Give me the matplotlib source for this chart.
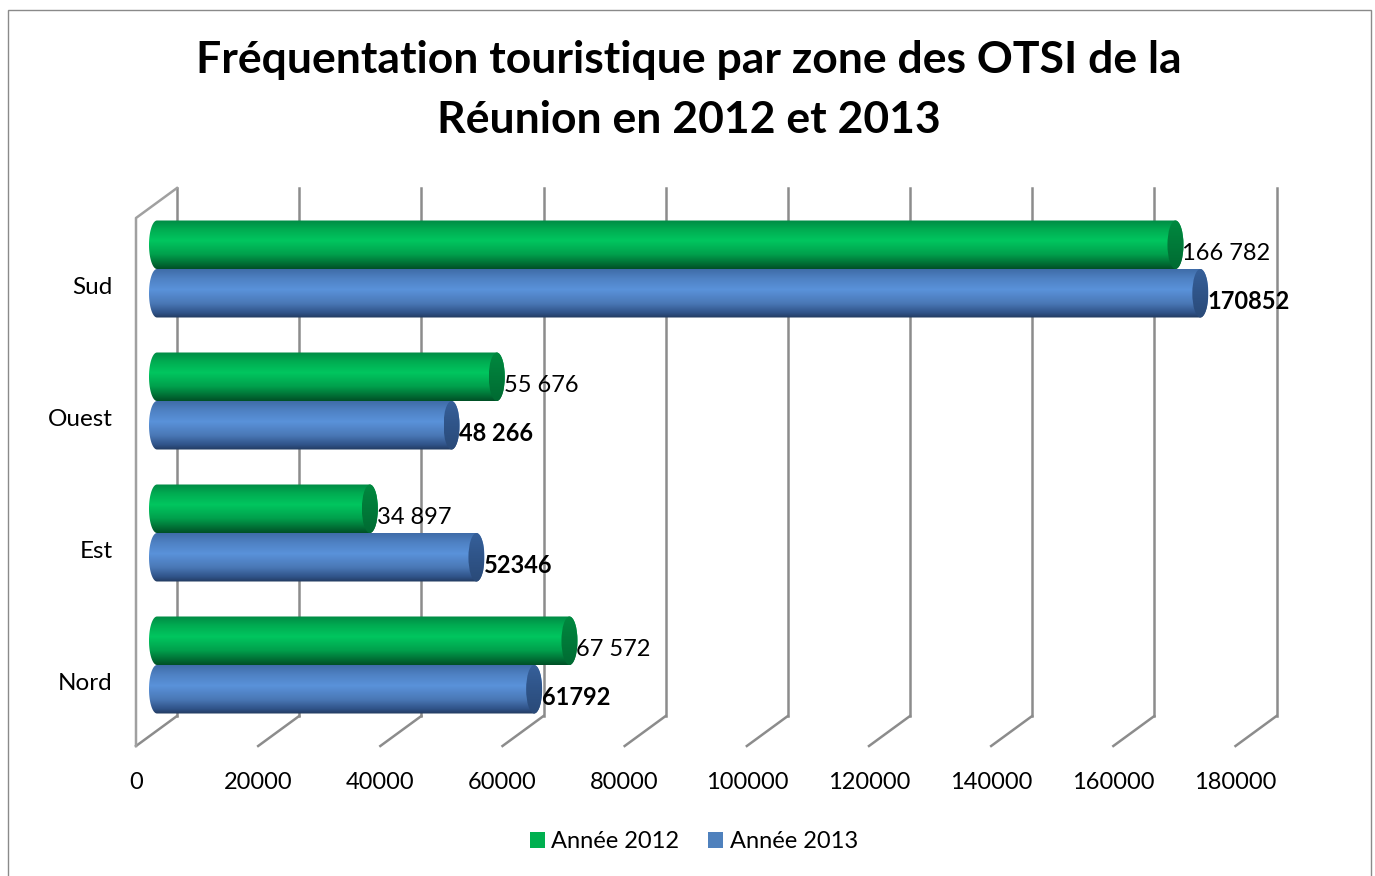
import numpy as np
import matplotlib
matplotlib.use('Agg')
import matplotlib.pyplot as plt
from matplotlib.colors import LinearSegmentedColormap
from matplotlib.patches import Patch, PathPatch, Ellipse, Rectangle
from matplotlib.path import Path
from matplotlib.transforms import ScaledTranslation

plt.rcParams['font.family'] = ['Lato', 'DejaVu Sans']

zones = ['Nord', 'Est', 'Ouest', 'Sud']
annee_2012 = [67572, 34897, 55676, 166782]
annee_2013 = [61792, 52346, 48266, 170852]
labels_2012 = ['67 572', '34 897', '55 676', '166 782']
labels_2013 = ['61792', '52346', '48 266', '170852']
x_ticks = [0, 20000, 40000, 60000, 80000, 100000, 120000, 140000, 160000, 180000]

W, H = 1375, 876
fig = plt.figure(figsize=(W / 100, H / 100), dpi=100)

# plot area = front plane of the fake 3d box, in pixels
left, right, top, bottom = 136, 1235.5, 218, 746
ax = fig.add_axes([left / W, 1 - bottom / H, (right - left) / W, (bottom - top) / H])

px_x = 180000 / (right - left)
px_y = 4 / (bottom - top)
depth_x = 41 * px_x
depth_y = 30 * px_y

# outer frame
fig.add_artist(Rectangle((8 / W, -0.05), (1371 - 8) / W, 1.05 - 10 / H, transform=fig.transFigure,
                         fill=False, ec='#8a8a8a', lw=1))

# grid walls
grid_col = '#8c8c8c'
for t in x_ticks:
    ax.plot([t, t + depth_x], [-0.5, -0.5 + depth_y], color=grid_col, lw=1.8, clip_on=False, zorder=1)
    ax.plot([t + depth_x, t + depth_x], [-0.5 + depth_y, 3.5 + depth_y], color=grid_col, lw=1.8,
            clip_on=False, zorder=1)
ax.plot([0, 0, depth_x], [-0.5, 3.5, 3.5 + depth_y], color='#a0a0a0', lw=1.8, clip_on=False, zorder=1)

green_map = LinearSegmentedColormap.from_list(
    'g', [(0, '#008a44'), (0.2, '#00ad52'), (0.42, '#00c65f'), (0.7, '#00a04c'), (0.9, '#006b33'), (1, '#004f26')])
blue_map = LinearSegmentedColormap.from_list(
    'b', [(0, '#3f6ca8'), (0.2, '#4f82c4'), (0.42, '#5a92da'), (0.7, '#4a78b6'), (0.9, '#2f5287'), (1, '#223a5e')])
green_cap = LinearSegmentedColormap.from_list('gc', ['#00893f', '#007a39', '#006a32'])
blue_cap = LinearSegmentedColormap.from_list('bc', ['#36609a', '#2f5488', '#2a4a78'])
ramp = np.linspace(0, 1, 256).reshape(-1, 1)

bar_h = 48.5 * px_y
bar_shift = 20.7 * px_x
rx = 8 * px_x


def cylinder(value, y_low, cmap, cap_map, z):
    x0 = 21 * px_x
    x1 = bar_shift + value
    y_mid = y_low + bar_h / 2
    a = np.linspace(np.pi / 2, 3 * np.pi / 2, 40)
    xs = np.r_[x0 + rx * np.cos(a), x1 - rx * np.cos(a)]
    ys = np.r_[y_mid + bar_h / 2 * np.sin(a), y_mid - bar_h / 2 * np.sin(a)]
    body = PathPatch(Path(np.c_[xs, ys]), fc='none', ec='none', transform=ax.transData)
    ax.add_patch(body)
    im = ax.imshow(ramp, cmap=cmap, aspect='auto', zorder=z, origin='upper',
                   extent=(x0 - rx, x1 + rx, y_low, y_low + bar_h), clip_on=True)
    im.set_clip_path(body)
    cap = Ellipse((x1, y_mid), 2 * rx, bar_h, fc='none', ec='none')
    ax.add_patch(cap)
    im2 = ax.imshow(ramp, cmap=cap_map, aspect='auto', zorder=z + 0.1, origin='upper',
                    extent=(x1 - rx, x1 + rx, y_low, y_low + bar_h))
    im2.set_clip_path(cap)


for i in range(len(zones)):
    mid = i + 15 * px_y
    cylinder(annee_2012[i], mid, green_map, green_cap, 3)
    cylinder(annee_2013[i], mid - bar_h, blue_map, blue_cap, 4)
    ax.annotate(labels_2012[i], (annee_2012[i] + bar_shift + rx, mid + bar_h / 2), xytext=(-0.8, -6),
                textcoords='offset points', fontsize=17, color='black', va='center', ha='left', zorder=6)
    ax.annotate(labels_2013[i], (annee_2013[i] + bar_shift + rx, mid - bar_h / 2), xytext=(-0.3, -5.7),
                textcoords='offset points', fontsize=17, fontweight='bold', color='black', va='center',
                ha='left', zorder=6)

ax.set_xlim(0, 180000)
ax.set_ylim(-0.5, 3.5)
ax.set_xticks(x_ticks)
ax.set_yticks(range(len(zones)))
ax.set_yticklabels(zones)
ax.tick_params(axis='x', length=0, pad=18.5, labelsize=17)
ax.tick_params(axis='y', length=0, pad=17, labelsize=17.5)
for lab in ax.get_yticklabels():
    lab.set_transform(lab.get_transform() + ScaledTranslation(0, -1 / 100, fig.dpi_scale_trans))
for s in ax.spines.values():
    s.set_visible(False)
ax.patch.set_alpha(0)

fig.text(689 / W, 1 - 90 / H, 'Fréquentation touristique par zone des OTSI de la\nRéunion en 2012 et 2013',
         ha='center', va='center', fontsize=32, fontweight='bold', linespacing=1.6)

handles = [Patch(fc='#00b050', ec='none', label='Année 2012'), Patch(fc='#4f81bd', ec='none', label='Année 2013')]
fig.legend(handles=handles, ncol=2, loc='center', bbox_to_anchor=(694 / W, 1 - 842 / H), frameon=False,
           fontsize=17, handlelength=0.63, handleheight=0.63, handletextpad=0.27, columnspacing=1.23)

fig.savefig('out.png', dpi=100)
